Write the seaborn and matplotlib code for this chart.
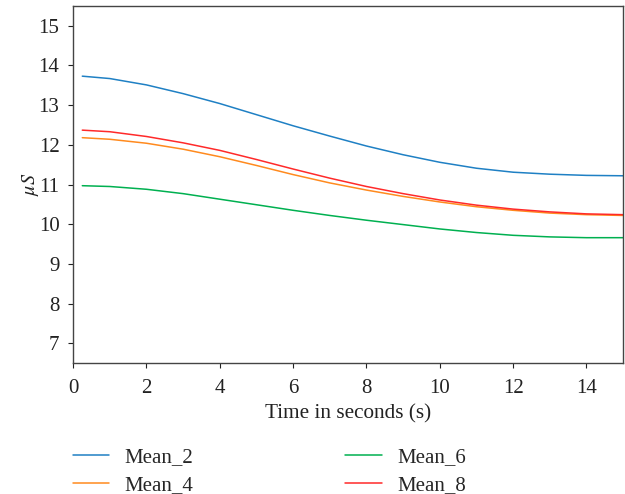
import matplotlib
matplotlib.use("Agg")
import matplotlib.pyplot as plt
import seaborn as sns
import pandas as pd

time_s = [0.25, 1, 2, 3, 4, 5, 6, 7, 8, 9, 10, 11, 12, 13, 14, 15]
mean_2 = [13.73, 13.67, 13.51, 13.29, 13.04, 12.76, 12.48, 12.22, 11.97, 11.75, 11.56, 11.41, 11.31, 11.26, 11.23, 11.22]
mean_4 = [12.18, 12.14, 12.04, 11.89, 11.70, 11.48, 11.25, 11.04, 10.86, 10.70, 10.56, 10.44, 10.35, 10.28, 10.24, 10.22]
mean_6 = [10.97, 10.95, 10.88, 10.77, 10.63, 10.49, 10.35, 10.22, 10.10, 9.99, 9.88, 9.79, 9.72, 9.68, 9.66, 9.66]
mean_8 = [12.37, 12.33, 12.21, 12.05, 11.86, 11.63, 11.39, 11.16, 10.95, 10.77, 10.61, 10.48, 10.38, 10.31, 10.26, 10.24]
series_names = ["Mean_2", "Mean_4", "Mean_6", "Mean_8"]
colors = ["#1f80c4", "#ff8a1e", "#00b050", "#ff2a2a"]

rows = []
for name, vals in zip(series_names, [mean_2, mean_4, mean_6, mean_8]):
    for t, v in zip(time_s, vals):
        rows.append({"Time": t, "Value": v, "Series": name})
df = pd.DataFrame(rows)

sns.set_style("ticks")
plt.rcParams["font.family"] = ["Liberation Serif", "DejaVu Serif"]
plt.rcParams["mathtext.fontset"] = "stix"

fig = plt.figure(figsize=(6.25, 4.94), dpi=100)
ax = fig.add_axes([0.117, 0.265, 0.880, 0.723])
sns.lineplot(data=df, x="Time", y="Value", hue="Series", hue_order=series_names,
             palette=colors, linewidth=1.1, ax=ax, legend=True)

ax.set_xlim(0, 15)
ax.set_ylim(6.5, 15.5)
ax.set_xticks([0, 2, 4, 6, 8, 10, 12, 14])
ax.set_yticks([7, 8, 9, 10, 11, 12, 13, 14, 15])
ax.tick_params(labelsize=15, colors="#222222", length=3.8)
ax.tick_params(axis="x", pad=7.5)
ax.tick_params(axis="y", pad=6)
ax.set_xlabel("Time in seconds (s)", fontsize=15.3, color="#222222", labelpad=5)
ax.set_ylabel(r"$\mu S$", fontsize=14.5, color="#222222", labelpad=-2)
for sp in ax.spines.values():
    sp.set_color("#444444")
    sp.set_linewidth(1.0)

handles, labels = ax.get_legend_handles_labels()
ax.legend(handles, labels, ncol=2, frameon=False, fontsize=15,
          loc="upper left", bbox_to_anchor=(-0.0158, -0.2137),
          handlelength=1.76, handletextpad=0.72, columnspacing=7.3,
          labelspacing=0.4, borderaxespad=0.0)

fig.savefig("out.png", dpi=100)
